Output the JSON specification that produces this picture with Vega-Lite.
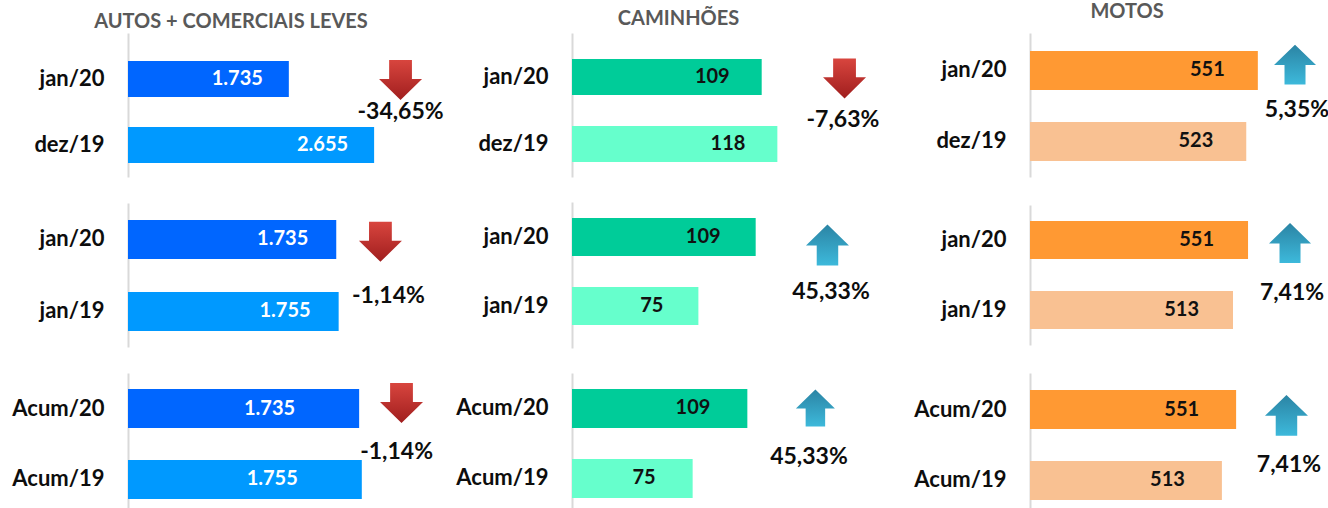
{
  "$schema": "https://vega.github.io/schema/vega-lite/v6.json",
  "padding": 0,
  "background": "white",
  "config": {
    "view": {"stroke": null},
    "font": "Lato",
    "title": {"font": "Lato", "fontSize": 20, "fontWeight": "bold", "color": "#595959", "anchor": "middle", "frame": "group"},
    "axisY": {"ticks": false, "tickSize": 0, "labelPadding": 24, "labelFontSize": 22, "labelFontWeight": "bold", "labelColor": "#0d0d0d", "labelFont": "Lato", "domainColor": "#D9D9D9", "domainWidth": 2, "grid": false}
  },
  "datasets": {
    "dados": [
      {"painel": "p11", "periodo": "jan/20", "grupo": "atual", "valor": 1735, "rotulo": "1.735"},
      {"painel": "p11", "periodo": "dez/19", "grupo": "anterior", "valor": 2655, "rotulo": "2.655"},
      {"painel": "p11", "variacao": -34.65, "texto_variacao": "-34,65%"},
      {"painel": "p21", "periodo": "jan/20", "grupo": "atual", "valor": 1735, "rotulo": "1.735"},
      {"painel": "p21", "periodo": "jan/19", "grupo": "anterior", "valor": 1755, "rotulo": "1.755"},
      {"painel": "p21", "variacao": -1.14, "texto_variacao": "-1,14%"},
      {"painel": "p31", "periodo": "Acum/20", "grupo": "atual", "valor": 1735, "rotulo": "1.735"},
      {"painel": "p31", "periodo": "Acum/19", "grupo": "anterior", "valor": 1755, "rotulo": "1.755"},
      {"painel": "p31", "variacao": -1.14, "texto_variacao": "-1,14%"},
      {"painel": "p12", "periodo": "jan/20", "grupo": "atual", "valor": 109, "rotulo": "109"},
      {"painel": "p12", "periodo": "dez/19", "grupo": "anterior", "valor": 118, "rotulo": "118"},
      {"painel": "p12", "variacao": -7.63, "texto_variacao": "-7,63%"},
      {"painel": "p22", "periodo": "jan/20", "grupo": "atual", "valor": 109, "rotulo": "109"},
      {"painel": "p22", "periodo": "jan/19", "grupo": "anterior", "valor": 75, "rotulo": "75"},
      {"painel": "p22", "variacao": 45.33, "texto_variacao": "45,33%"},
      {"painel": "p32", "periodo": "Acum/20", "grupo": "atual", "valor": 109, "rotulo": "109"},
      {"painel": "p32", "periodo": "Acum/19", "grupo": "anterior", "valor": 75, "rotulo": "75"},
      {"painel": "p32", "variacao": 45.33, "texto_variacao": "45,33%"},
      {"painel": "p13", "periodo": "jan/20", "grupo": "atual", "valor": 551, "rotulo": "551"},
      {"painel": "p13", "periodo": "dez/19", "grupo": "anterior", "valor": 523, "rotulo": "523"},
      {"painel": "p13", "variacao": 5.35, "texto_variacao": "5,35%"},
      {"painel": "p23", "periodo": "jan/20", "grupo": "atual", "valor": 551, "rotulo": "551"},
      {"painel": "p23", "periodo": "jan/19", "grupo": "anterior", "valor": 513, "rotulo": "513"},
      {"painel": "p23", "variacao": 7.41, "texto_variacao": "7,41%"},
      {"painel": "p33", "periodo": "Acum/20", "grupo": "atual", "valor": 551, "rotulo": "551"},
      {"painel": "p33", "periodo": "Acum/19", "grupo": "anterior", "valor": 513, "rotulo": "513"},
      {"painel": "p33", "variacao": 7.41, "texto_variacao": "7,41%"}
    ]
  },
  "data": {"name": "dados"},
  "spacing": 7,
  "resolve": {"scale": {"color": "independent"}},
  "hconcat": [
    {
      "spacing": 26,
      "resolve": {"scale": {"color": "independent"}},
      "vconcat": [
        {
          "width": 320, "height": 144,
          "title": {"text": ["", "AUTOS + COMERCIAIS LEVES"], "lineHeight": 12, "offset": 1, "dx": -57},
          "transform": [{"filter": "datum.painel === 'p11'"}],
          "layer": [
            {"transform": [{"filter": "isValid(datum.valor)"}], "mark": {"type": "bar"},
             "encoding": {"y": {"field": "periodo", "type": "nominal", "title": null, "scale": {"domain": ["jan/20", "dez/19"], "paddingInner": 0.4545, "paddingOuter": 0.3182, "align": 0.6667}, "axis": {"minExtent": 128, "maxExtent": 128}},
                          "x": {"field": "valor", "type": "quantitative", "scale": {"domain": [0, 3452], "nice": false}, "axis": null},
                          "color": {"field": "grupo", "type": "nominal", "scale": {"domain": ["atual", "anterior"], "range": ["#0066FF", "#0099FF"]}, "legend": null}}},
            {"transform": [{"filter": "isValid(datum.valor)"}], "mark": {"type": "text", "align": "right", "baseline": "middle", "dx": -26, "font": "Lato", "fontSize": 20, "fontWeight": "bold", "color": "#FFFFFF"},
             "encoding": {"y": {"field": "periodo", "type": "nominal", "title": null}, "x": {"field": "valor", "type": "quantitative", "axis": null}, "text": {"field": "rotulo", "type": "nominal"}}},
            {"transform": [{"filter": "datum.variacao < 0"}], "mark": {"type": "point", "shape": "M-0.53,-0.93L0.53,-0.93L0.53,-0.05L1,-0.05L0,0.93L-1,-0.05L-0.53,-0.05Z", "size": 1849, "filled": true, "opacity": 1, "color": {"gradient": "linear", "x1": 0, "y1": 0, "x2": 0, "y2": 1, "stops": [{"offset": 0, "color": "#D8453E"}, {"offset": 1, "color": "#A01E1E"}]}},
             "encoding": {"x": {"datum": 2940, "type": "quantitative", "axis": null}, "y": {"datum": "jan/20", "type": "nominal", "bandPosition": 0.53, "title": null}}},
            {"transform": [{"filter": "datum.variacao > 0"}], "mark": {"type": "point", "shape": "M0,-0.95L1,0.02L0.5,0.02L0.5,0.95L-0.5,0.95L-0.5,0.02L-1,0.02Z", "size": 1849, "filled": true, "opacity": 1, "color": {"gradient": "linear", "x1": 0, "y1": 0, "x2": 0, "y2": 1, "stops": [{"offset": 0, "color": "#2B84A4"}, {"offset": 1, "color": "#3DB9DB"}]}},
             "encoding": {"x": {"datum": 2940, "type": "quantitative", "axis": null}, "y": {"datum": "jan/20", "type": "nominal", "bandPosition": 0.53, "title": null}}},
            {"transform": [{"filter": "isValid(datum.variacao)"}], "mark": {"type": "text", "align": "center", "baseline": "middle", "font": "Lato", "fontSize": 23, "fontWeight": "bold", "color": "#0d0d0d"},
             "encoding": {"x": {"datum": 2940, "type": "quantitative", "axis": null}, "y": {"datum": "jan/20", "type": "nominal", "bandPosition": 1.42, "title": null}, "text": {"field": "texto_variacao", "type": "nominal"}}}
          ]
        },
        {
          "width": 320, "height": 144,
          "transform": [{"filter": "datum.painel === 'p21'"}],
          "layer": [
            {"transform": [{"filter": "isValid(datum.valor)"}], "mark": {"type": "bar"},
             "encoding": {"y": {"field": "periodo", "type": "nominal", "title": null, "scale": {"domain": ["jan/20", "jan/19"], "paddingInner": 0.4583, "paddingOuter": 0.2292, "align": 0.515}, "axis": {"minExtent": 128, "maxExtent": 128}},
                          "x": {"field": "valor", "type": "quantitative", "scale": {"domain": [0, 2666], "nice": false}, "axis": null},
                          "color": {"field": "grupo", "type": "nominal", "scale": {"domain": ["atual", "anterior"], "range": ["#0066FF", "#0099FF"]}, "legend": null}}},
            {"transform": [{"filter": "isValid(datum.valor)"}], "mark": {"type": "text", "align": "right", "baseline": "middle", "dx": -28, "font": "Lato", "fontSize": 20, "fontWeight": "bold", "color": "#FFFFFF"},
             "encoding": {"y": {"field": "periodo", "type": "nominal", "title": null}, "x": {"field": "valor", "type": "quantitative", "axis": null}, "text": {"field": "rotulo", "type": "nominal"}}},
            {"transform": [{"filter": "datum.variacao < 0"}], "mark": {"type": "point", "shape": "M-0.53,-0.93L0.53,-0.93L0.53,-0.05L1,-0.05L0,0.93L-1,-0.05L-0.53,-0.05Z", "size": 1849, "filled": true, "opacity": 1, "color": {"gradient": "linear", "x1": 0, "y1": 0, "x2": 0, "y2": 1, "stops": [{"offset": 0, "color": "#D8453E"}, {"offset": 1, "color": "#A01E1E"}]}},
             "encoding": {"x": {"datum": 2103, "type": "quantitative", "axis": null}, "y": {"datum": "jan/20", "type": "nominal", "bandPosition": 0.56, "title": null}}},
            {"transform": [{"filter": "datum.variacao > 0"}], "mark": {"type": "point", "shape": "M0,-0.95L1,0.02L0.5,0.02L0.5,0.95L-0.5,0.95L-0.5,0.02L-1,0.02Z", "size": 1849, "filled": true, "opacity": 1, "color": {"gradient": "linear", "x1": 0, "y1": 0, "x2": 0, "y2": 1, "stops": [{"offset": 0, "color": "#2B84A4"}, {"offset": 1, "color": "#3DB9DB"}]}},
             "encoding": {"x": {"datum": 2103, "type": "quantitative", "axis": null}, "y": {"datum": "jan/20", "type": "nominal", "bandPosition": 0.56, "title": null}}},
            {"transform": [{"filter": "isValid(datum.variacao)"}], "mark": {"type": "text", "align": "center", "baseline": "middle", "font": "Lato", "fontSize": 23, "fontWeight": "bold", "color": "#0d0d0d"},
             "encoding": {"x": {"datum": 2170, "type": "quantitative", "axis": null}, "y": {"datum": "jan/20", "type": "nominal", "bandPosition": 1.95, "title": null}, "text": {"field": "texto_variacao", "type": "nominal"}}}
          ]
        },
        {
          "width": 320, "height": 135,
          "transform": [{"filter": "datum.painel === 'p31'"}],
          "layer": [
            {"transform": [{"filter": "isValid(datum.valor)"}], "mark": {"type": "bar"},
             "encoding": {"y": {"field": "periodo", "type": "nominal", "title": null, "scale": {"domain": ["Acum/20", "Acum/19"], "paddingInner": 0.4507, "paddingOuter": 0.1761, "align": 0.64}, "axis": {"minExtent": 128, "maxExtent": 128}},
                          "x": {"field": "valor", "type": "quantitative", "scale": {"domain": [0, 2402], "nice": false}, "axis": null},
                          "color": {"field": "grupo", "type": "nominal", "scale": {"domain": ["atual", "anterior"], "range": ["#0066FF", "#0099FF"]}, "legend": null}}},
            {"transform": [{"filter": "isValid(datum.valor)"}], "mark": {"type": "text", "align": "right", "baseline": "middle", "dx": -64, "font": "Lato", "fontSize": 20, "fontWeight": "bold", "color": "#FFFFFF"},
             "encoding": {"y": {"field": "periodo", "type": "nominal", "title": null}, "x": {"field": "valor", "type": "quantitative", "axis": null}, "text": {"field": "rotulo", "type": "nominal"}}},
            {"transform": [{"filter": "datum.variacao < 0"}], "mark": {"type": "point", "shape": "M-0.53,-0.93L0.53,-0.93L0.53,-0.05L1,-0.05L0,0.93L-1,-0.05L-0.53,-0.05Z", "size": 1849, "filled": true, "opacity": 1, "color": {"gradient": "linear", "x1": 0, "y1": 0, "x2": 0, "y2": 1, "stops": [{"offset": 0, "color": "#D8453E"}, {"offset": 1, "color": "#A01E1E"}]}},
             "encoding": {"x": {"datum": 2053, "type": "quantitative", "axis": null}, "y": {"datum": "Acum/20", "type": "nominal", "bandPosition": 0.36, "title": null}}},
            {"transform": [{"filter": "datum.variacao > 0"}], "mark": {"type": "point", "shape": "M0,-0.95L1,0.02L0.5,0.02L0.5,0.95L-0.5,0.95L-0.5,0.02L-1,0.02Z", "size": 1849, "filled": true, "opacity": 1, "color": {"gradient": "linear", "x1": 0, "y1": 0, "x2": 0, "y2": 1, "stops": [{"offset": 0, "color": "#2B84A4"}, {"offset": 1, "color": "#3DB9DB"}]}},
             "encoding": {"x": {"datum": 2053, "type": "quantitative", "axis": null}, "y": {"datum": "Acum/20", "type": "nominal", "bandPosition": 0.36, "title": null}}},
            {"transform": [{"filter": "isValid(datum.variacao)"}], "mark": {"type": "text", "align": "center", "baseline": "middle", "font": "Lato", "fontSize": 23, "fontWeight": "bold", "color": "#0d0d0d"},
             "encoding": {"x": {"datum": 2016, "type": "quantitative", "axis": null}, "y": {"datum": "Acum/20", "type": "nominal", "bandPosition": 1.62, "title": null}, "text": {"field": "texto_variacao", "type": "nominal"}}}
          ]
        }
      ]
    },
    {
      "spacing": 25,
      "resolve": {"scale": {"color": "independent"}},
      "vconcat": [
        {
          "width": 319, "height": 144,
          "title": {"text": ["", "CAMINHÕES"], "lineHeight": 9, "offset": 4, "dx": -53},
          "transform": [{"filter": "datum.painel === 'p12'"}],
          "layer": [
            {"transform": [{"filter": "isValid(datum.valor)"}], "mark": {"type": "bar"},
             "encoding": {"y": {"field": "periodo", "type": "nominal", "title": null, "scale": {"domain": ["jan/20", "dez/19"], "paddingInner": 0.4627, "paddingOuter": 0.306, "align": 0.634}, "axis": {"minExtent": 116, "maxExtent": 116}},
                          "x": {"field": "valor", "type": "quantitative", "scale": {"domain": [0, 183.3], "nice": false}, "axis": null},
                          "color": {"field": "grupo", "type": "nominal", "scale": {"domain": ["atual", "anterior"], "range": ["#00CC99", "#66FFCC"]}, "legend": null}}},
            {"transform": [{"filter": "isValid(datum.valor)"}], "mark": {"type": "text", "align": "right", "baseline": "middle", "dx": -32, "font": "Lato", "fontSize": 20, "fontWeight": "bold", "color": "#111111"},
             "encoding": {"y": {"field": "periodo", "type": "nominal", "title": null}, "x": {"field": "valor", "type": "quantitative", "axis": null}, "text": {"field": "rotulo", "type": "nominal"}}},
            {"transform": [{"filter": "datum.variacao < 0"}], "mark": {"type": "point", "shape": "M-0.53,-0.93L0.53,-0.93L0.53,-0.05L1,-0.05L0,0.93L-1,-0.05L-0.53,-0.05Z", "size": 1849, "filled": true, "opacity": 1, "color": {"gradient": "linear", "x1": 0, "y1": 0, "x2": 0, "y2": 1, "stops": [{"offset": 0, "color": "#D8453E"}, {"offset": 1, "color": "#A01E1E"}]}},
             "encoding": {"x": {"datum": 156.6, "type": "quantitative", "axis": null}, "y": {"datum": "jan/20", "type": "nominal", "bandPosition": 0.54, "title": null}}},
            {"transform": [{"filter": "datum.variacao > 0"}], "mark": {"type": "point", "shape": "M0,-0.95L1,0.02L0.5,0.02L0.5,0.95L-0.5,0.95L-0.5,0.02L-1,0.02Z", "size": 1849, "filled": true, "opacity": 1, "color": {"gradient": "linear", "x1": 0, "y1": 0, "x2": 0, "y2": 1, "stops": [{"offset": 0, "color": "#2B84A4"}, {"offset": 1, "color": "#3DB9DB"}]}},
             "encoding": {"x": {"datum": 156.6, "type": "quantitative", "axis": null}, "y": {"datum": "jan/20", "type": "nominal", "bandPosition": 0.54, "title": null}}},
            {"transform": [{"filter": "isValid(datum.variacao)"}], "mark": {"type": "text", "align": "center", "baseline": "middle", "font": "Lato", "fontSize": 23, "fontWeight": "bold", "color": "#0d0d0d"},
             "encoding": {"x": {"datum": 155.7, "type": "quantitative", "axis": null}, "y": {"datum": "jan/20", "type": "nominal", "bandPosition": 1.69, "title": null}, "text": {"field": "texto_variacao", "type": "nominal"}}}
          ]
        },
        {
          "width": 319, "height": 146,
          "transform": [{"filter": "datum.painel === 'p22'"}],
          "layer": [
            {"transform": [{"filter": "isValid(datum.valor)"}], "mark": {"type": "bar"},
             "encoding": {"y": {"field": "periodo", "type": "nominal", "title": null, "scale": {"domain": ["jan/20", "jan/19"], "paddingInner": 0.4493, "paddingOuter": 0.2826, "align": 0.41}, "axis": {"minExtent": 116, "maxExtent": 116}},
                          "x": {"field": "valor", "type": "quantitative", "scale": {"domain": [0, 189.3], "nice": false}, "axis": null},
                          "color": {"field": "grupo", "type": "nominal", "scale": {"domain": ["atual", "anterior"], "range": ["#00CC99", "#66FFCC"]}, "legend": null}}},
            {"transform": [{"filter": "isValid(datum.valor)"}], "mark": {"type": "text", "align": "right", "baseline": "middle", "dx": -35, "font": "Lato", "fontSize": 20, "fontWeight": "bold", "color": "#111111"},
             "encoding": {"y": {"field": "periodo", "type": "nominal", "title": null}, "x": {"field": "valor", "type": "quantitative", "axis": null}, "text": {"field": "rotulo", "type": "nominal"}}},
            {"transform": [{"filter": "datum.variacao < 0"}], "mark": {"type": "point", "shape": "M-0.53,-0.93L0.53,-0.93L0.53,-0.05L1,-0.05L0,0.93L-1,-0.05L-0.53,-0.05Z", "size": 1849, "filled": true, "opacity": 1, "color": {"gradient": "linear", "x1": 0, "y1": 0, "x2": 0, "y2": 1, "stops": [{"offset": 0, "color": "#D8453E"}, {"offset": 1, "color": "#A01E1E"}]}},
             "encoding": {"x": {"datum": 151.6, "type": "quantitative", "axis": null}, "y": {"datum": "jan/20", "type": "nominal", "bandPosition": 0.71, "title": null}}},
            {"transform": [{"filter": "datum.variacao > 0"}], "mark": {"type": "point", "shape": "M0,-0.95L1,0.02L0.5,0.02L0.5,0.95L-0.5,0.95L-0.5,0.02L-1,0.02Z", "size": 1849, "filled": true, "opacity": 1, "color": {"gradient": "linear", "x1": 0, "y1": 0, "x2": 0, "y2": 1, "stops": [{"offset": 0, "color": "#2B84A4"}, {"offset": 1, "color": "#3DB9DB"}]}},
             "encoding": {"x": {"datum": 151.6, "type": "quantitative", "axis": null}, "y": {"datum": "jan/20", "type": "nominal", "bandPosition": 0.71, "title": null}}},
            {"transform": [{"filter": "isValid(datum.variacao)"}], "mark": {"type": "text", "align": "center", "baseline": "middle", "font": "Lato", "fontSize": 23, "fontWeight": "bold", "color": "#0d0d0d"},
             "encoding": {"x": {"datum": 153.7, "type": "quantitative", "axis": null}, "y": {"datum": "jan/20", "type": "nominal", "bandPosition": 1.95, "title": null}, "text": {"field": "texto_variacao", "type": "nominal"}}}
          ]
        },
        {
          "width": 319, "height": 135,
          "transform": [{"filter": "datum.painel === 'p32'"}],
          "layer": [
            {"transform": [{"filter": "isValid(datum.valor)"}], "mark": {"type": "bar"},
             "encoding": {"y": {"field": "periodo", "type": "nominal", "title": null, "scale": {"domain": ["Acum/20", "Acum/19"], "paddingInner": 0.4429, "paddingOuter": 0.1857, "align": 0.615}, "axis": {"minExtent": 116, "maxExtent": 116}},
                          "x": {"field": "valor", "type": "quantitative", "scale": {"domain": [0, 198.3], "nice": false}, "axis": null},
                          "color": {"field": "grupo", "type": "nominal", "scale": {"domain": ["atual", "anterior"], "range": ["#00CC99", "#66FFCC"]}, "legend": null}}},
            {"transform": [{"filter": "isValid(datum.valor)"}], "mark": {"type": "text", "align": "right", "baseline": "middle", "dx": -37, "font": "Lato", "fontSize": 20, "fontWeight": "bold", "color": "#111111"},
             "encoding": {"y": {"field": "periodo", "type": "nominal", "title": null}, "x": {"field": "valor", "type": "quantitative", "axis": null}, "text": {"field": "rotulo", "type": "nominal"}}},
            {"transform": [{"filter": "datum.variacao < 0"}], "mark": {"type": "point", "shape": "M-0.53,-0.93L0.53,-0.93L0.53,-0.05L1,-0.05L0,0.93L-1,-0.05L-0.53,-0.05Z", "size": 1521, "filled": true, "opacity": 1, "color": {"gradient": "linear", "x1": 0, "y1": 0, "x2": 0, "y2": 1, "stops": [{"offset": 0, "color": "#D8453E"}, {"offset": 1, "color": "#A01E1E"}]}},
             "encoding": {"x": {"datum": 151.3, "type": "quantitative", "axis": null}, "y": {"datum": "Acum/20", "type": "nominal", "bandPosition": 0.49, "title": null}}},
            {"transform": [{"filter": "datum.variacao > 0"}], "mark": {"type": "point", "shape": "M0,-0.95L1,0.02L0.5,0.02L0.5,0.95L-0.5,0.95L-0.5,0.02L-1,0.02Z", "size": 1521, "filled": true, "opacity": 1, "color": {"gradient": "linear", "x1": 0, "y1": 0, "x2": 0, "y2": 1, "stops": [{"offset": 0, "color": "#2B84A4"}, {"offset": 1, "color": "#3DB9DB"}]}},
             "encoding": {"x": {"datum": 151.3, "type": "quantitative", "axis": null}, "y": {"datum": "Acum/20", "type": "nominal", "bandPosition": 0.49, "title": null}}},
            {"transform": [{"filter": "isValid(datum.variacao)"}], "mark": {"type": "text", "align": "center", "baseline": "middle", "font": "Lato", "fontSize": 23, "fontWeight": "bold", "color": "#0d0d0d"},
             "encoding": {"x": {"datum": 147.3, "type": "quantitative", "axis": null}, "y": {"datum": "Acum/20", "type": "nominal", "bandPosition": 1.74, "title": null}, "text": {"field": "texto_variacao", "type": "nominal"}}}
          ]
        }
      ]
    },
    {
      "spacing": 28,
      "resolve": {"scale": {"color": "independent"}},
      "vconcat": [
        {
          "width": 299, "height": 144,
          "title": {"text": ["", "MOTOS"], "lineHeight": 2, "offset": 11, "dx": -52.5},
          "transform": [{"filter": "datum.painel === 'p13'"}],
          "layer": [
            {"transform": [{"filter": "isValid(datum.valor)"}], "mark": {"type": "bar"},
             "encoding": {"y": {"field": "periodo", "type": "nominal", "title": null, "scale": {"domain": ["jan/20", "dez/19"], "paddingInner": 0.4507, "paddingOuter": 0.2394, "align": 0.529}, "axis": {"minExtent": 132, "maxExtent": 132}},
                          "x": {"field": "valor", "type": "quantitative", "scale": {"domain": [0, 723.1], "nice": false}, "axis": null},
                          "color": {"field": "grupo", "type": "nominal", "scale": {"domain": ["atual", "anterior"], "range": ["#FF9933", "#F9C192"]}, "legend": null}}},
            {"transform": [{"filter": "isValid(datum.valor)"}], "mark": {"type": "text", "align": "right", "baseline": "middle", "dx": -33, "font": "Lato", "fontSize": 20, "fontWeight": "bold", "color": "#111111"},
             "encoding": {"y": {"field": "periodo", "type": "nominal", "title": null}, "x": {"field": "valor", "type": "quantitative", "axis": null}, "text": {"field": "rotulo", "type": "nominal"}}},
            {"transform": [{"filter": "datum.variacao < 0"}], "mark": {"type": "point", "shape": "M-0.53,-0.93L0.53,-0.93L0.53,-0.05L1,-0.05L0,0.93L-1,-0.05L-0.53,-0.05Z", "size": 1764, "filled": true, "opacity": 1, "color": {"gradient": "linear", "x1": 0, "y1": 0, "x2": 0, "y2": 1, "stops": [{"offset": 0, "color": "#D8453E"}, {"offset": 1, "color": "#A01E1E"}]}},
             "encoding": {"x": {"datum": 640.9, "type": "quantitative", "axis": null}, "y": {"datum": "jan/20", "type": "nominal", "bandPosition": 0.35, "title": null}}},
            {"transform": [{"filter": "datum.variacao > 0"}], "mark": {"type": "point", "shape": "M0,-0.95L1,0.02L0.5,0.02L0.5,0.95L-0.5,0.95L-0.5,0.02L-1,0.02Z", "size": 1764, "filled": true, "opacity": 1, "color": {"gradient": "linear", "x1": 0, "y1": 0, "x2": 0, "y2": 1, "stops": [{"offset": 0, "color": "#2B84A4"}, {"offset": 1, "color": "#3DB9DB"}]}},
             "encoding": {"x": {"datum": 640.9, "type": "quantitative", "axis": null}, "y": {"datum": "jan/20", "type": "nominal", "bandPosition": 0.35, "title": null}}},
            {"transform": [{"filter": "isValid(datum.variacao)"}], "mark": {"type": "text", "align": "center", "baseline": "middle", "font": "Lato", "fontSize": 23, "fontWeight": "bold", "color": "#0d0d0d", "clip": true},
             "encoding": {"x": {"datum": 645.7, "type": "quantitative", "axis": null}, "y": {"datum": "jan/20", "type": "nominal", "bandPosition": 1.51, "title": null}, "text": {"field": "texto_variacao", "type": "nominal"}}}
          ]
        },
        {
          "width": 299, "height": 140,
          "transform": [{"filter": "datum.painel === 'p23'"}],
          "layer": [
            {"transform": [{"filter": "isValid(datum.valor)"}], "mark": {"type": "bar"},
             "encoding": {"y": {"field": "periodo", "type": "nominal", "title": null, "scale": {"domain": ["jan/20", "jan/19"], "paddingInner": 0.4571, "paddingOuter": 0.2286, "align": 0.5}, "axis": {"minExtent": 132, "maxExtent": 132}},
                          "x": {"field": "valor", "type": "quantitative", "scale": {"domain": [0, 755.6], "nice": false}, "axis": null},
                          "color": {"field": "grupo", "type": "nominal", "scale": {"domain": ["atual", "anterior"], "range": ["#FF9933", "#F9C192"]}, "legend": null}}},
            {"transform": [{"filter": "isValid(datum.valor)"}], "mark": {"type": "text", "align": "right", "baseline": "middle", "dx": -34, "font": "Lato", "fontSize": 20, "fontWeight": "bold", "color": "#111111"},
             "encoding": {"y": {"field": "periodo", "type": "nominal", "title": null}, "x": {"field": "valor", "type": "quantitative", "axis": null}, "text": {"field": "rotulo", "type": "nominal"}}},
            {"transform": [{"filter": "datum.variacao < 0"}], "mark": {"type": "point", "shape": "M-0.53,-0.93L0.53,-0.93L0.53,-0.05L1,-0.05L0,0.93L-1,-0.05L-0.53,-0.05Z", "size": 1764, "filled": true, "opacity": 1, "color": {"gradient": "linear", "x1": 0, "y1": 0, "x2": 0, "y2": 1, "stops": [{"offset": 0, "color": "#D8453E"}, {"offset": 1, "color": "#A01E1E"}]}},
             "encoding": {"x": {"datum": 657.1, "type": "quantitative", "axis": null}, "y": {"datum": "jan/20", "type": "nominal", "bandPosition": 0.58, "title": null}}},
            {"transform": [{"filter": "datum.variacao > 0"}], "mark": {"type": "point", "shape": "M0,-0.95L1,0.02L0.5,0.02L0.5,0.95L-0.5,0.95L-0.5,0.02L-1,0.02Z", "size": 1764, "filled": true, "opacity": 1, "color": {"gradient": "linear", "x1": 0, "y1": 0, "x2": 0, "y2": 1, "stops": [{"offset": 0, "color": "#2B84A4"}, {"offset": 1, "color": "#3DB9DB"}]}},
             "encoding": {"x": {"datum": 657.1, "type": "quantitative", "axis": null}, "y": {"datum": "jan/20", "type": "nominal", "bandPosition": 0.58, "title": null}}},
            {"transform": [{"filter": "isValid(datum.variacao)"}], "mark": {"type": "text", "align": "center", "baseline": "middle", "font": "Lato", "fontSize": 23, "fontWeight": "bold", "color": "#0d0d0d"},
             "encoding": {"x": {"datum": 662.1, "type": "quantitative", "axis": null}, "y": {"datum": "jan/20", "type": "nominal", "bandPosition": 1.89, "title": null}, "text": {"field": "texto_variacao", "type": "nominal"}}}
          ]
        },
        {
          "width": 299, "height": 135,
          "transform": [{"filter": "datum.painel === 'p33'"}],
          "layer": [
            {"transform": [{"filter": "isValid(datum.valor)"}], "mark": {"type": "bar"},
             "encoding": {"y": {"field": "periodo", "type": "nominal", "title": null, "scale": {"domain": ["Acum/20", "Acum/19"], "paddingInner": 0.4507, "paddingOuter": 0.1761, "align": 0.68}, "axis": {"minExtent": 132, "maxExtent": 132}},
                          "x": {"field": "valor", "type": "quantitative", "scale": {"domain": [0, 799.3], "nice": false}, "axis": null},
                          "color": {"field": "grupo", "type": "nominal", "scale": {"domain": ["atual", "anterior"], "range": ["#FF9933", "#F9C192"]}, "legend": null}}},
            {"transform": [{"filter": "isValid(datum.valor)"}], "mark": {"type": "text", "align": "right", "baseline": "middle", "dx": -37, "font": "Lato", "fontSize": 20, "fontWeight": "bold", "color": "#111111"},
             "encoding": {"y": {"field": "periodo", "type": "nominal", "title": null}, "x": {"field": "valor", "type": "quantitative", "axis": null}, "text": {"field": "rotulo", "type": "nominal"}}},
            {"transform": [{"filter": "datum.variacao < 0"}], "mark": {"type": "point", "shape": "M-0.53,-0.93L0.53,-0.93L0.53,-0.05L1,-0.05L0,0.93L-1,-0.05L-0.53,-0.05Z", "size": 1849, "filled": true, "opacity": 1, "color": {"gradient": "linear", "x1": 0, "y1": 0, "x2": 0, "y2": 1, "stops": [{"offset": 0, "color": "#D8453E"}, {"offset": 1, "color": "#A01E1E"}]}},
             "encoding": {"x": {"datum": 685.6, "type": "quantitative", "axis": null}, "y": {"datum": "Acum/20", "type": "nominal", "bandPosition": 0.65, "title": null}}},
            {"transform": [{"filter": "datum.variacao > 0"}], "mark": {"type": "point", "shape": "M0,-0.95L1,0.02L0.5,0.02L0.5,0.95L-0.5,0.95L-0.5,0.02L-1,0.02Z", "size": 1849, "filled": true, "opacity": 1, "color": {"gradient": "linear", "x1": 0, "y1": 0, "x2": 0, "y2": 1, "stops": [{"offset": 0, "color": "#2B84A4"}, {"offset": 1, "color": "#3DB9DB"}]}},
             "encoding": {"x": {"datum": 685.6, "type": "quantitative", "axis": null}, "y": {"datum": "Acum/20", "type": "nominal", "bandPosition": 0.65, "title": null}}},
            {"transform": [{"filter": "isValid(datum.variacao)"}], "mark": {"type": "text", "align": "center", "baseline": "middle", "font": "Lato", "fontSize": 23, "fontWeight": "bold", "color": "#0d0d0d"},
             "encoding": {"x": {"datum": 692.3, "type": "quantitative", "axis": null}, "y": {"datum": "Acum/20", "type": "nominal", "bandPosition": 1.92, "title": null}, "text": {"field": "texto_variacao", "type": "nominal"}}}
          ]
        }
      ]
    }
  ]
}
